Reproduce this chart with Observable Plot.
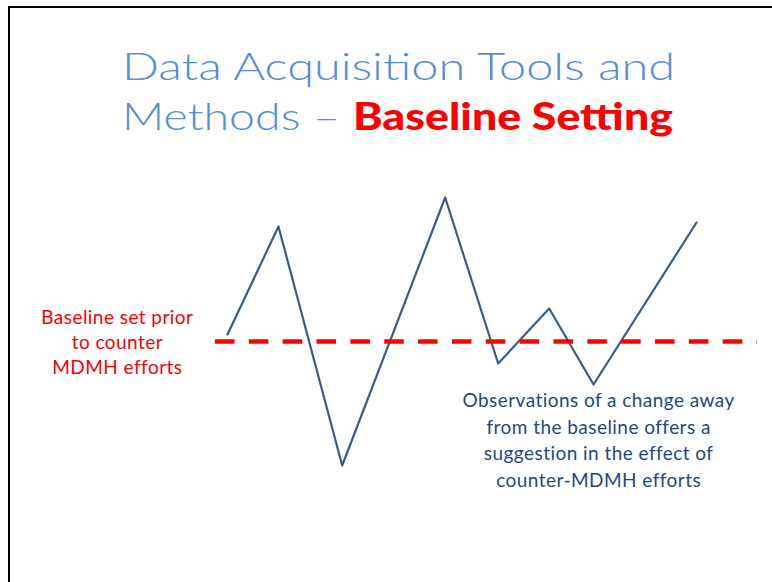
<!DOCTYPE html>
<html><head><meta charset="utf-8">
<script src="https://cdn.jsdelivr.net/npm/d3@7"></script>
<script src="https://cdn.jsdelivr.net/npm/@observablehq/plot@0.6"></script>
<style>
body{margin:0;background:#fff;}
#slide{position:relative;width:772px;height:582px;overflow:hidden;background:#fff;}
#frame{position:absolute;left:8px;top:6px;right:-10px;bottom:-10px;border-top:2px solid #000;border-left:2px solid #000;}
#chart,#title{position:absolute;left:0;top:0;}
#chart text{letter-spacing:0.45px;}
</style></head><body>
<div id="slide"><div id="frame"></div><div id="chart"></div><svg id="title" width="772" height="160"></svg></div>
<script>
// Title text
const titleLine1 = "Data Acquisition Tools and";
const titleLine2a = "Methods –";
const titleLine2b = "Baseline Setting";

// Observed series (x in time units, y relative to baseline)
const positions = [0, 1, 2.25, 4.27, 5.31, 6.31, 7.18, 9.2];
const values = [0.7, 11.5, -12.4, 14.4, -2.2, 3.3, -4.3, 11.9];
const baseline = [0];

// Annotations
const noteTexts = [
  "Baseline set prior\nto counter\nMDMH efforts",
  "Observations of a change away\nfrom the baseline offers a\nsuggestion in the effect of\ncounter-MDMH efforts"
];
const noteX = [-2.16, 7.28];
const noteY = [0.05, -9.7];

const data = positions.map((p, i) => ({p, v: values[i]}));
const notes = noteTexts.map((t, i) => ({t, x: noteX[i], y: noteY[i]}));

const chart = Plot.plot({
  width: 772, height: 582,
  marginLeft: 215, marginRight: 15, marginTop: 191, marginBottom: 91,
  x: {domain: [-0.235, 10.396], axis: null},
  y: {domain: [-15, 15], axis: null},
  style: {background: "transparent", fontFamily: "Lato, 'Open Sans', sans-serif"},
  marks: [
    Plot.line(data, {x: "p", y: "v", stroke: "#385D8A", strokeWidth: 2.2}),
    Plot.ruleY(baseline, {stroke: "#FF0000", strokeWidth: 4.5, strokeDasharray: "19.5,14.35"}),
    Plot.text([notes[0]], {x: "x", y: "y", text: "t", fill: "#FF0000", fontSize: 19, lineHeight: 1.32, textAnchor: "middle"}),
    Plot.text([notes[1]], {x: "x", y: "y", text: "t", fill: "#1F497D", fontSize: 19, lineHeight: 1.4, textAnchor: "middle"})
  ]
});
document.getElementById("chart").appendChild(chart);

// Title (real SVG text)
const t = d3.select("#title");
t.append("text").attr("x", 122).attr("y", 80).attr("textLength", 553).attr("lengthAdjust", "spacingAndGlyphs")
  .style("font-family", "Lato, sans-serif").style("font-weight", 300).style("font-size", "38px").attr("fill", "#558ED5")
  .text(titleLine1);
t.append("text").attr("x", 122).attr("y", 130).attr("textLength", 218).attr("lengthAdjust", "spacingAndGlyphs")
  .style("font-family", "Lato, sans-serif").style("font-weight", 300).style("font-size", "38px").attr("fill", "#558ED5")
  .text(titleLine2a);
t.append("text").attr("x", 353).attr("y", 130).attr("textLength", 320).attr("lengthAdjust", "spacingAndGlyphs")
  .style("font-family", "Lato, sans-serif").style("font-weight", 900).style("font-size", "37px").attr("fill", "#FF0000")
  .text(titleLine2b);
</script>
</body></html>
